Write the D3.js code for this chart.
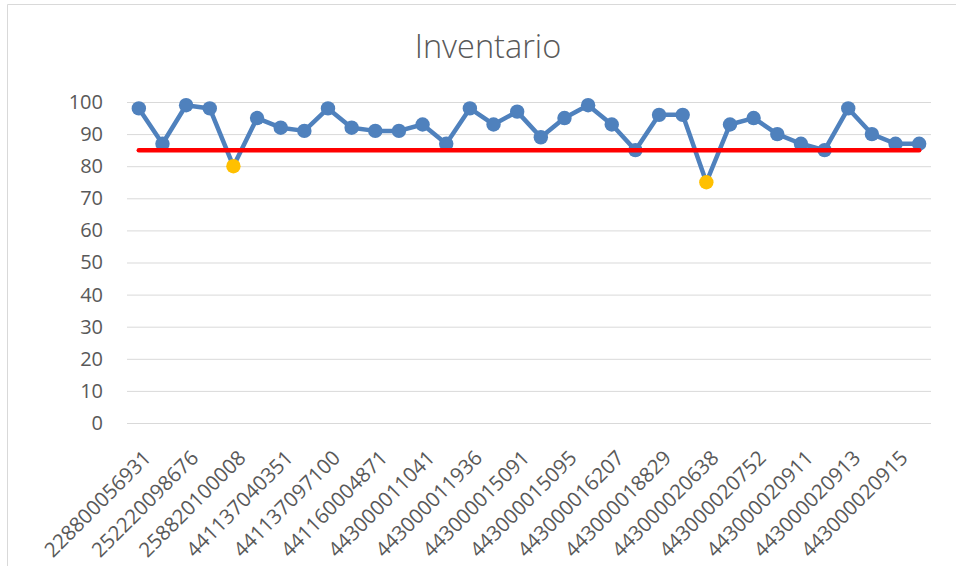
<!DOCTYPE html>
<html>
<head>
<meta charset="utf-8">
<script src="https://cdn.jsdelivr.net/npm/d3@7"></script>
<style>
  body { margin: 0; background: #fff; }
  svg { display: block; font-family: "Open Sans", sans-serif; }
</style>
</head>
<body>
<svg id="chart" width="956" height="576"></svg>
<script>
// values per item, in order (34 items; only every other name is shown on the axis)
const values = [98, 87, 99, 98, 80, 95, 92, 91, 98, 92, 91, 91, 93, 87, 98, 93, 97,
                89, 95, 99, 93, 85, 96, 96, 75, 93, 95, 90, 87, 85, 98, 90, 87, 87];
// the names visible on the x axis (items 0, 2, 4, ...)
const tickLabels = ["228800056931", "252220098676", "258820100008", "441137040351",
                    "441137097100", "441160004871", "443000011041", "443000011936",
                    "443000015091", "443000015095", "443000016207", "443000018829",
                    "443000020638", "443000020752", "443000020911", "443000020913",
                    "443000020915"];
const target = 85;
const yTicks = [0, 10, 20, 30, 40, 50, 60, 70, 80, 90, 100];

const svg = d3.select("#chart");
const textColor = "#595959";

// chart border (only left and top edges fall inside the picture)
svg.append("path")
    .attr("d", "M7.5,566 V4.5 H956")
    .attr("fill", "none")
    .attr("stroke", "#d9d9d9");

const x = d3.scalePoint()
    .domain(d3.range(values.length))
    .range([127, 931])
    .padding(0.5);

const y = d3.scaleLinear()
    .domain([0, 100])
    .range([423, 102]);

// title
svg.append("text")
    .attr("x", 488)
    .attr("y", 58)
    .attr("text-anchor", "middle")
    .style("fill", textColor)
    .style("font-size", "32.5px")
    .style("font-weight", 300)
    .text("Inventario");

// gridlines + y labels
svg.append("g")
    .attr("transform", "translate(127,0)")
    .call(d3.axisLeft(y).tickValues(yTicks).tickSize(-804).tickPadding(24))
    .call(g => g.select(".domain").remove())
    .call(g => g.selectAll("line").style("stroke", "#d9d9d9"))
    .call(g => g.selectAll("text")
        .style("fill", textColor)
        .style("font-size", "20px")
        .style("font-family", "Open Sans"));

// x labels
const xTickVals = tickLabels.map((d, i) => i * 2);
const xAxis = svg.append("g")
    .attr("transform", "translate(0,423)")
    .call(d3.axisBottom(x).tickValues(xTickVals).tickSize(0)
        .tickFormat(d => tickLabels[d / 2]))
    .call(g => g.select(".domain").remove());

xAxis.selectAll("text")
    .attr("y", 0)
    .attr("dy", "0.35em")
    .attr("text-anchor", "end")
    .attr("transform", "translate(8,31) rotate(-45)")
    .style("fill", textColor)
    .style("font-size", "20.5px")
    .style("font-family", "Open Sans");

// the series line
const line = d3.line()
    .x((d, i) => x(i))
    .y(d => y(d));

svg.append("path")
    .datum(values)
    .attr("fill", "none")
    .attr("stroke", "#4f81bd")
    .attr("stroke-width", 4.5)
    .attr("stroke-linejoin", "round")
    .attr("d", line);

// markers, below target ones in yellow
svg.append("g")
    .selectAll("circle")
    .data(values)
    .join("circle")
    .attr("cx", (d, i) => x(i))
    .attr("cy", d => y(d))
    .attr("r", 7.2)
    .attr("fill", d => d < target ? "#ffc000" : "#4f81bd");

// target line
svg.append("line")
    .attr("x1", x(0))
    .attr("x2", x(values.length - 1))
    .attr("y1", y(target))
    .attr("y2", y(target))
    .attr("stroke", "#ff0000")
    .attr("stroke-width", 4.5)
    .attr("stroke-linecap", "round");
</script>
</body>
</html>
